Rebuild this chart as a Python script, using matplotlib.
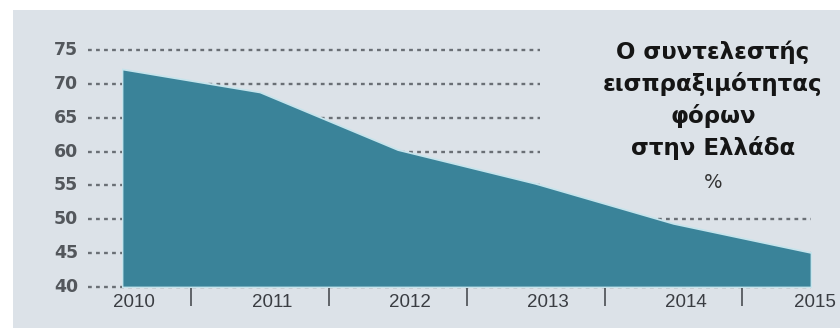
import matplotlib
matplotlib.use("Agg")
import matplotlib.pyplot as plt
from matplotlib.patches import Rectangle
from matplotlib.transforms import ScaledTranslation

# data
years = [2010, 2011, 2012, 2013, 2014, 2015]
rate = [72.2, 68.8, 60.3, 55.3, 49.4, 45.1]
yticks = [40, 45, 50, 55, 60, 65, 70, 75]
title_lines = ["Ο συντελεστής", "εισπραξιμότητας", "φόρων", "στην Ελλάδα"]
unit = "%"

W, H = 840, 333
fig = plt.figure(figsize=(W / 100, H / 100), dpi=100)
fig.patch.set_facecolor("white")

# light panel behind everything
fig.patches.append(Rectangle((13 / W, 1 - 328 / H), 1 - 13 / W, (328 - 10) / H,
                             transform=fig.transFigure, facecolor="#dce2e8",
                             edgecolor="none", zorder=-5))

ax = fig.add_axes([122 / W, 1 - 287 / H, (811 - 122) / W, (287 - 50) / H])
ax.set_zorder(2)
ax.set_facecolor("none")
ax.set_xlim(years[0], years[-1])
ax.set_ylim(yticks[0], yticks[-1])
for s in ax.spines.values():
    s.set_visible(False)
ax.set_xticks([])
ax.set_yticks([])

# dotted guide lines, upper ones stop short of the title
x_left = years[0] - 34 / 137.8
for v in yticks:
    x_right = 2013.03 if v >= 55 else years[-1]
    ax.plot([x_left, x_right], [v, v], color="#6a6f75", lw=1.7,
            ls=(0, (1.6, 1.8)), clip_on=False, zorder=1)

ax.fill_between(years, rate, yticks[0], facecolor="#3a8399",
                edgecolor="#c6e4ec", lw=1.3, zorder=2)

# y labels
for v in yticks:
    ax.text(x_left - 0.07, v, str(v), ha="right", va="center", fontsize=12.5,
            fontweight="bold", color="#53575c", family="DejaVu Sans",
            clip_on=False)

# x labels and separators
down = ax.transData + ScaledTranslation(0, -0.07, fig.dpi_scale_trans)
for y in years:
    shift = 0.03 if y == years[-1] else 0.09
    ax.text(y + shift, 40, str(y), ha="center", va="top", fontsize=13.5,
            color="#3a3d42", family="Liberation Sans", clip_on=False,
            transform=down)
bar = ax.transData + ScaledTranslation(0, -0.01, fig.dpi_scale_trans)
for a, b in zip(years[:-1], years[1:]):
    ax.text((a + b) / 2, 40, "|", ha="center", va="top", fontsize=13,
            color="#3a3d42", family="DejaVu Sans", clip_on=False,
            transform=bar)

# title block
ys = [52, 84, 116, 148]
for line, yc in zip(title_lines, ys):
    fig.text(713 / W, 1 - yc / H, line, ha="center", va="center",
             fontsize=16.5, fontweight="bold", color="#151515",
             family="DejaVu Sans")
fig.text(713 / W, 1 - 182 / H, unit, ha="center", va="center", fontsize=14,
         color="#333333", family="DejaVu Sans")

fig.savefig("out.png", dpi=100)
